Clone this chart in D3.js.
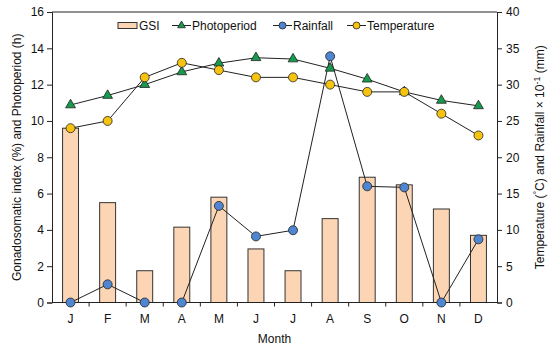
<!DOCTYPE html>
<html>
<head>
<meta charset="utf-8">
<script src="https://cdn.jsdelivr.net/npm/d3@7"></script>
<style>
  body { margin: 0; background: #fff; }
  text { font-family: Arial, "Liberation Sans", sans-serif; fill: #111; }
</style>
</head>
<body>
<div id="chart"></div>
<script>
var months = ["J", "F", "M", "A", "M", "J", "J", "A", "S", "O", "N", "D"];
var gsi = [9.6, 5.5, 1.75, 4.15, 5.8, 2.95, 1.75, 4.62, 6.9, 6.48, 5.15, 3.7];
var photoperiod = [10.88, 11.4, 12.0, 12.7, 13.18, 13.48, 13.41, 12.9, 12.3, 11.6, 11.13, 10.83];
var rainfall = [0, 2.5, 0, 0, 13.3, 9.1, 9.95, 33.9, 16.0, 15.85, 0, 8.7];
var temperature = [24, 25, 31, 33, 32, 31, 31, 30, 29, 29, 26, 23];
var leftTicks = [0, 2, 4, 6, 8, 10, 12, 14, 16];
var rightTicks = [0, 5, 10, 15, 20, 25, 30, 35, 40];

var W = 550, H = 350;
var pLeft = 52, pRight = 497, pTop = 12, pBottom = 302.5;

var svg = d3.select("#chart").append("svg")
  .attr("width", W).attr("height", H);

var idx = d3.range(months.length);
var x = d3.scaleBand().domain(idx).range([pLeft, pRight]).paddingInner(0).paddingOuter(0);
var yL = d3.scaleLinear().domain([0, 16]).range([pBottom, pTop]);
var yR = d3.scaleLinear().domain([0, 40]).range([pBottom, pTop]);
var cx = function(i) { return x(i) + x.bandwidth() / 2; };

// bars
var barW = x.bandwidth() * 0.43;
svg.append("g").selectAll("rect").data(gsi).enter().append("rect")
  .attr("x", function(d, i) { return cx(i) - barW / 2; })
  .attr("y", function(d) { return yL(d); })
  .attr("width", barW)
  .attr("height", function(d) { return yL(0) - yL(d); })
  .attr("fill", "#fcd6b4")
  .attr("stroke", "#333")
  .attr("stroke-width", 1);

// frame top
svg.append("line").attr("x1", pLeft).attr("x2", pRight).attr("y1", pTop).attr("y2", pTop)
  .attr("stroke", "#222").attr("stroke-width", 1);

// left axis
var axL = svg.append("g").attr("transform", "translate(" + pLeft + ",0)")
  .call(d3.axisLeft(yL).tickValues(leftTicks).tickSizeOuter(0).tickSize(5).tickPadding(3));
// right axis
var axR = svg.append("g").attr("transform", "translate(" + pRight + ",0)")
  .call(d3.axisRight(yR).tickValues(rightTicks).tickSizeOuter(0).tickSize(5).tickPadding(4));
// bottom axis: ticks at band boundaries, labels at centers
var axB = svg.append("g").attr("transform", "translate(0," + pBottom + ")");
axB.append("line").attr("x1", pLeft).attr("x2", pRight).attr("stroke", "#222");
axB.selectAll("line.b").data(d3.range(1, 12)).enter().append("line")
  .attr("x1", function(i) { return x(i); }).attr("x2", function(i) { return x(i); })
  .attr("y1", 0).attr("y2", 4).attr("stroke", "#222");
axB.selectAll("text").data(months).enter().append("text")
  .attr("x", function(d, i) { return cx(i); })
  .attr("y", 20)
  .attr("text-anchor", "middle")
  .attr("font-size", 12)
  .text(function(d) { return d; });

[axL, axR].forEach(function(a) {
  a.selectAll("path").attr("stroke", "#222");
  a.selectAll("line").attr("stroke", "#222");
  a.selectAll("text").attr("font-size", 12).attr("font-family", "Arial, 'Liberation Sans', sans-serif").attr("fill", "#111");
});

// lines
var lineL = d3.line().x(function(d, i) { return cx(i); }).y(function(d) { return yL(d); });
var lineR = d3.line().x(function(d, i) { return cx(i); }).y(function(d) { return yR(d); });

svg.append("path").datum(photoperiod).attr("d", lineL)
  .attr("fill", "none").attr("stroke", "#222").attr("stroke-width", 1);
svg.append("path").datum(temperature).attr("d", lineR)
  .attr("fill", "none").attr("stroke", "#222").attr("stroke-width", 1);
svg.append("path").datum(rainfall).attr("d", lineR)
  .attr("fill", "none").attr("stroke", "#222").attr("stroke-width", 1);

var tri = d3.symbol().type(d3.symbolTriangle).size(42);
var triSmall = d3.symbol().type(d3.symbolTriangle).size(26);

svg.append("g").selectAll("path").data(photoperiod).enter().append("path")
  .attr("d", tri)
  .attr("transform", function(d, i) { return "translate(" + cx(i) + "," + yL(d) + ")"; })
  .attr("fill", "#179a4c").attr("stroke", "#222").attr("stroke-width", 0.8);

svg.append("g").selectAll("circle").data(temperature).enter().append("circle")
  .attr("cx", function(d, i) { return cx(i); })
  .attr("cy", function(d) { return yR(d); })
  .attr("r", 4.5)
  .attr("fill", "#f6c311").attr("stroke", "#222").attr("stroke-width", 0.8);

svg.append("g").selectAll("circle").data(rainfall).enter().append("circle")
  .attr("cx", function(d, i) { return cx(i); })
  .attr("cy", function(d) { return yR(d); })
  .attr("r", 4.5)
  .attr("fill", "#4f86d2").attr("stroke", "#222").attr("stroke-width", 0.8);

// legend
var lg = svg.append("g");
var ly = 25.5;
lg.append("rect").attr("x", 118).attr("y", ly - 3).attr("width", 19).attr("height", 6)
  .attr("fill", "#fcd6b4").attr("stroke", "#333");
lg.append("text").attr("x", 139).attr("y", ly + 4.5).attr("font-size", 12).text("GSI");

function legendLine(x0, label, marker) {
  lg.append("line").attr("x1", x0).attr("x2", x0 + 19).attr("y1", ly).attr("y2", ly)
    .attr("stroke", "#222");
  if (marker === "tri") {
    lg.append("path").attr("d", triSmall)
      .attr("transform", "translate(" + (x0 + 9.5) + "," + ly + ")")
      .attr("fill", "#179a4c").attr("stroke", "#222").attr("stroke-width", 0.8);
  } else {
    lg.append("circle").attr("cx", x0 + 9.5).attr("cy", ly).attr("r", 3.5)
      .attr("fill", marker).attr("stroke", "#222").attr("stroke-width", 0.8);
  }
  lg.append("text").attr("x", x0 + 20).attr("y", ly + 4.5).attr("font-size", 12).text(label);
}
legendLine(172, "Photoperiod", "tri");
legendLine(273, "Rainfall", "#4f86d2");
legendLine(347, "Temperature", "#f6c311");

// axis titles
svg.append("text")
  .attr("transform", "translate(21," + ((pTop + pBottom) / 2) + ") rotate(-90)")
  .attr("text-anchor", "middle").attr("font-size", 12)
  .text("Gonadosomatic index (%) and Photoperiod (h)");

var rt = svg.append("text")
  .attr("transform", "translate(544," + ((pTop + pBottom) / 2) + ") rotate(-90)")
  .attr("text-anchor", "middle").attr("font-size", 12);
rt.append("tspan").text("Temperature (");
rt.append("tspan").attr("dy", -4).attr("font-size", 9).text("°");
rt.append("tspan").attr("dy", 4).text("C) and Rainfall × 10");
rt.append("tspan").attr("dy", -4).attr("font-size", 9).text("-1");
rt.append("tspan").attr("dy", 4).text(" (mm)");

svg.append("text").attr("x", (pLeft + pRight) / 2).attr("y", 343)
  .attr("text-anchor", "middle").attr("font-size", 12).text("Month");
</script>
</body>
</html>
